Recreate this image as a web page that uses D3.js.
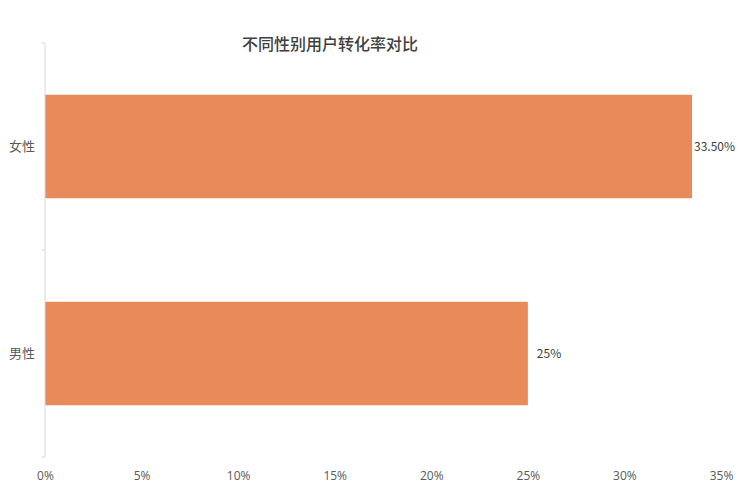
<!DOCTYPE html>
<html>
<head>
<meta charset="utf-8">
<script src="https://cdn.jsdelivr.net/npm/d3@7"></script>
<style>
  body { margin: 0; background: #fff; }
  svg { display: block; font-family: "Noto Sans CJK SC", "Open Sans", sans-serif; }
</style>
</head>
<body>
<div id="chart"></div>
<script>
"use strict"

// chart data
const categories = ["女性", "男性"];
const rates = [33.5, 25];
const valueLabels = ["33.50%", "25%"];
const xTicks = [0, 5, 10, 15, 20, 25, 30, 35];
const title = "不同性别用户转化率对比";

const width = 740, height = 493;
const margin = { top: 43, right: 19, bottom: 36, left: 45 };

const svg = d3.select("#chart").append("svg")
    .attr("width", width)
    .attr("height", height);

let x = d3.scaleLinear()
    .domain([0, 35])
    .range([margin.left, width - margin.right]);

let y = d3.scaleBand()
    .domain(categories)
    .range([margin.top, height - margin.bottom])
    .paddingInner(0.5)
    .paddingOuter(0.25);

// title
svg.append("text")
    .attr("x", 330)
    .attr("y", 50)
    .attr("text-anchor", "middle")
    .style("font-size", "16px")
    .style("font-weight", "500")
    .style("fill", "#404040")
    .text(title);

// bars
svg.selectAll(".bar")
    .data(rates)
    .enter().append("rect")
    .attr("class", "bar")
    .attr("x", x(0))
    .attr("y", (d, i) => y(categories[i]))
    .attr("width", d => x(d) - x(0))
    .attr("height", y.bandwidth())
    .style("fill", "#E98A5B");

// value labels
svg.selectAll(".val")
    .data(rates)
    .enter().append("text")
    .attr("class", "val")
    .attr("x", d => x(d) + (d === 25 ? 9 : 2))
    .attr("y", (d, i) => y(categories[i]) + y.bandwidth() / 2)
    .attr("dy", "0.35em")
    .style("font-size", "12px")
    .style("fill", "#404040")
    .text((d, i) => valueLabels[i]);

// y axis line and boundary ticks
const yAxisG = svg.append("g");
yAxisG.append("line")
    .attr("x1", x(0)).attr("x2", x(0))
    .attr("y1", margin.top).attr("y2", height - margin.bottom)
    .style("stroke", "#d9d9d9")
    .style("stroke-width", "1px");

const bounds = [margin.top, (margin.top + height - margin.bottom) / 2, height - margin.bottom];
yAxisG.selectAll(".btick")
    .data(bounds)
    .enter().append("line")
    .attr("x1", x(0) - 4).attr("x2", x(0))
    .attr("y1", d => d).attr("y2", d => d)
    .style("stroke", "#d9d9d9")
    .style("stroke-width", "1px");

// category labels
svg.selectAll(".cat")
    .data(categories)
    .enter().append("text")
    .attr("class", "cat")
    .attr("x", 22)
    .attr("y", d => y(d) + y.bandwidth() / 2)
    .attr("dy", "0.35em")
    .attr("text-anchor", "middle")
    .style("font-size", "13px")
    .style("fill", "#595959")
    .text(d => d);

// x axis tick labels (no axis line)
const xAxis = d3.axisBottom(x)
    .tickValues(xTicks)
    .tickSize(0)
    .tickPadding(0)
    .tickFormat(d => d + "%");

svg.append("g")
    .attr("transform", "translate(0," + 471 + ")")
    .call(xAxis)
    .call(g => g.select(".domain").remove())
    .selectAll("text")
    .style("font-size", "12px")
    .style("font-family", "\"Open Sans\", sans-serif")
    .style("fill", "#595959");
</script>
</body>
</html>
